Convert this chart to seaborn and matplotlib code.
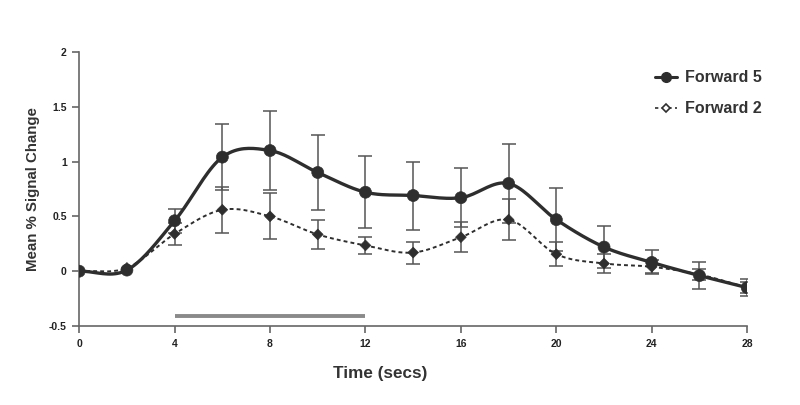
import numpy as np
import pandas as pd
import matplotlib
matplotlib.use("Agg")
import matplotlib.pyplot as plt
import seaborn as sns
from matplotlib.lines import Line2D

# values
time_s = [0, 2, 4, 6, 8, 10, 12, 14, 16, 18, 20, 22, 24, 26, 28]
fwd5_mean = [0.0, 0.01, 0.46, 1.04, 1.10, 0.90, 0.72, 0.69, 0.67, 0.80, 0.47, 0.22, 0.08, -0.04, -0.15]
fwd5_err = [0.0, 0.02, 0.11, 0.30, 0.36, 0.34, 0.33, 0.31, 0.27, 0.36, 0.29, 0.19, 0.11, 0.12, 0.08]
fwd2_mean = [0.0, 0.03, 0.34, 0.56, 0.50, 0.335, 0.235, 0.17, 0.31, 0.47, 0.155, 0.07, 0.04, -0.03, -0.15]
fwd2_err = [0.0, 0.02, 0.10, 0.21, 0.21, 0.135, 0.08, 0.10, 0.135, 0.19, 0.11, 0.085, 0.06, 0.05, 0.05]
stim_on, stim_off = 4, 12


def smooth(x, y, n=20):
    # Catmull-Rom curve through the points (like a spreadsheet "smoothed line")
    x = np.asarray(x, float)
    y = np.asarray(y, float)
    px = np.concatenate([[2 * x[0] - x[1]], x, [2 * x[-1] - x[-2]]])
    py = np.concatenate([[2 * y[0] - y[1]], y, [2 * y[-1] - y[-2]]])
    xs, ys = [], []
    t = np.linspace(0, 1, n, endpoint=False)
    for i in range(1, len(px) - 2):
        for arr, out in ((px, xs), (py, ys)):
            p0, p1, p2, p3 = arr[i - 1], arr[i], arr[i + 1], arr[i + 2]
            out.extend(0.5 * ((2 * p1) + (-p0 + p2) * t
                              + (2 * p0 - 5 * p1 + 4 * p2 - p3) * t ** 2
                              + (-p0 + 3 * p1 - 3 * p2 + p3) * t ** 3))
    xs.append(x[-1])
    ys.append(y[-1])
    return np.array(xs), np.array(ys)


sns.set_style("white")
plt.rcParams["font.family"] = ["Liberation Sans", "DejaVu Sans"]

fig = plt.figure(figsize=(8, 4.05), dpi=100)
ax = fig.add_axes([0.099, 0.195, 0.835, 0.677])

dark = "#2e2e2e"
grey = "#555555"

pts = pd.DataFrame({"Time": time_s * 2,
                    "Signal": fwd5_mean + fwd2_mean,
                    "Err": fwd5_err + fwd2_err,
                    "Condition": ["Forward 5"] * len(time_s) + ["Forward 2"] * len(time_s)})

curves = []
for cond, mean in (("Forward 5", fwd5_mean), ("Forward 2", fwd2_mean)):
    sx, sy = smooth(time_s, mean)
    curves.append(pd.DataFrame({"Time": sx, "Signal": sy, "Condition": cond}))
curves = pd.concat(curves, ignore_index=True)

# error bars
for cond, mean, err in (("Forward 5", fwd5_mean, fwd5_err), ("Forward 2", fwd2_mean, fwd2_err)):
    ax.errorbar(time_s[2:], mean[2:], yerr=err[2:], fmt="none", ecolor=grey,
                elinewidth=1.1, capsize=5, capthick=1.1, zorder=2)

sns.lineplot(data=curves, x="Time", y="Signal", style="Condition",
             dashes={"Forward 5": "", "Forward 2": (2, 1.6)},
             size="Condition", sizes={"Forward 5": 2.4, "Forward 2": 1.4},
             color=dark, legend=False, ax=ax, zorder=3, sort=False, estimator=None)
sns.scatterplot(data=pts, x="Time", y="Signal", style="Condition",
                markers={"Forward 5": "o", "Forward 2": "D"},
                size="Condition", sizes={"Forward 5": 75, "Forward 2": 30},
                color=dark, edgecolor=dark, legend=False, ax=ax, zorder=4)

# stimulus bar
ax.plot([stim_on, stim_off], [-0.41, -0.41], color="#8a8a8a", lw=2.8, solid_capstyle="butt")

ax.set_xlim(0, 28)
ax.set_ylim(-0.5, 2)
ax.set_xticks(range(0, 29, 4))
ax.set_yticks([-0.5, 0, 0.5, 1, 1.5, 2])
ax.set_yticklabels(["-0.5", "0", "0.5", "1", "1.5", "2"])
for s in ("top", "right"):
    ax.spines[s].set_visible(False)
for s in ("left", "bottom"):
    ax.spines[s].set_color("#666666")
    ax.spines[s].set_linewidth(1.2)
ax.tick_params(axis="both", which="major", direction="out", length=5, width=1.2,
               color="#666666", labelsize=7.5, labelcolor="#222222", pad=4,
               left=True, bottom=True)
for lab in ax.get_xticklabels() + ax.get_yticklabels():
    lab.set_fontweight("bold")
ax.set_xlabel("Time (secs)", fontsize=12.3, fontweight="bold", labelpad=18, color="#333333")
ax.xaxis.set_label_coords((380 - 79) / 668, -0.145)
ax.set_ylabel("Mean % Signal Change", fontsize=10.8, fontweight="bold", labelpad=6, color="#333333")

handles = [Line2D([], [], color=dark, lw=2.2, marker="o", markersize=7),
           Line2D([], [], color=dark, lw=1.2, ls=(0, (2, 2)), marker="D", markersize=4.5,
                  markerfacecolor="white", markeredgewidth=1.2)]
leg = ax.legend(handles, ["Forward 5", "Forward 2"], loc="upper left",
                bbox_to_anchor=(0.84, 0.985), frameon=False, handlelength=1.4,
                handletextpad=0.5, labelspacing=1.0, prop={"weight": "bold", "size": 11.5})
for t in leg.get_texts():
    t.set_color("#333333")

fig.savefig("out.png", dpi=100)
